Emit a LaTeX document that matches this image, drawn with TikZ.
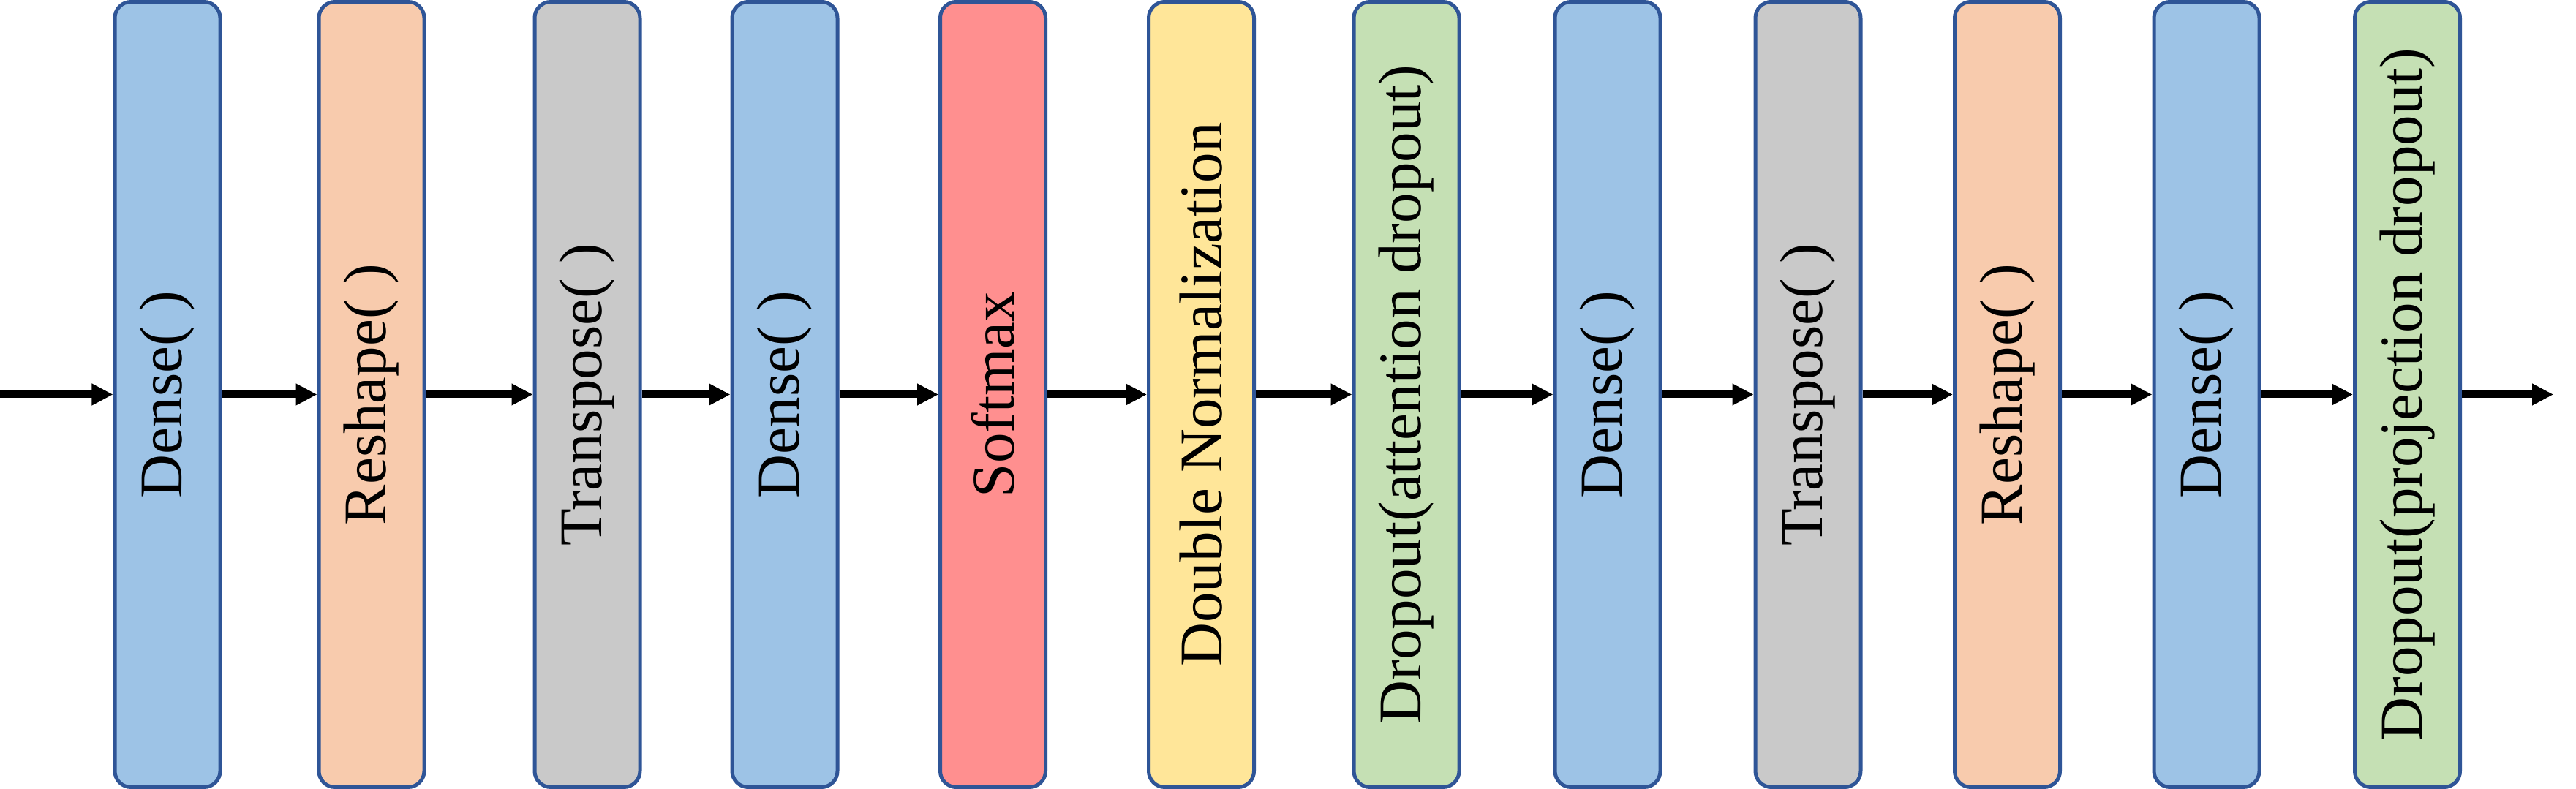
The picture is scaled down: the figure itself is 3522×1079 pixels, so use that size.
\documentclass[tikz,border=0pt]{standalone}
\usepackage{fontspec}
\setmainfont{Liberation Serif}
\usetikzlibrary{arrows.meta}
\definecolor{cdense}{HTML}{9DC3E6}
\definecolor{creshape}{HTML}{F8CBAD}
\definecolor{ctrans}{HTML}{C9C9C9}
\definecolor{csoft}{HTML}{FF8F8F}
\definecolor{cnorm}{HTML}{FFE699}
\definecolor{cdrop}{HTML}{C5E0B4}
\definecolor{cborder}{HTML}{2F5597}
\tikzset{
  layer/.style={draw=cborder, line width=1pt, rounded corners=4.4pt,
    rotate=90, minimum width=214.8pt, minimum height=28.8pt, inner sep=0pt,
    font=\fontsize{16.6pt}{20pt}\selectfont, text=black},
  flow/.style={line width=2pt, -{Triangle[length=5.8pt,width=5.6pt]}}
}
\begin{document}
\begin{tikzpicture}[x=0.2pt,y=0.2pt]
\useasboundingbox (0,0) rectangle (3522,1079);
\node[layer, fill=cdense]   (b1)  at (229,539.5)  {Dense( )};
\node[layer, fill=creshape] (b2)  at (508,539.5)  {Reshape( )};
\node[layer, fill=ctrans]   (b3)  at (803,539.5)  {Transpose( )};
\node[layer, fill=cdense]   (b4)  at (1073,539.5) {Dense( )};
\node[layer, fill=csoft]    (b5)  at (1357.5,539.5) {Softmax};
\node[layer, fill=cnorm]    (b6)  at (1642.5,539.5) {Double Normalization};
\node[layer, fill=cdrop]    (b7)  at (1923,539.5) {Dropout(attention dropout)};
\node[layer, fill=cdense]   (b8)  at (2198,539.5) {Dense( )};
\node[layer, fill=ctrans]   (b9)  at (2472,539.5) {Transpose( )};
\node[layer, fill=creshape] (b10) at (2744.5,539.5) {Reshape( )};
\node[layer, fill=cdense]   (b11) at (3017,539.5) {Dense( )};
\node[layer, fill=cdrop]    (b12) at (3291.5,539.5) {Dropout(projection dropout)};
\coordinate (in) at (0,539.5);
\coordinate (out) at (3491,539.5);
\draw[flow] (in) -- (b1.north);
\draw[flow] (b1.south) -- (b2.north);
\draw[flow] (b2.south) -- (b3.north);
\draw[flow] (b3.south) -- (b4.north);
\draw[flow] (b4.south) -- (b5.north);
\draw[flow] (b5.south) -- (b6.north);
\draw[flow] (b6.south) -- (b7.north);
\draw[flow] (b7.south) -- (b8.north);
\draw[flow] (b8.south) -- (b9.north);
\draw[flow] (b9.south) -- (b10.north);
\draw[flow] (b10.south) -- (b11.north);
\draw[flow] (b11.south) -- (b12.north);
\draw[flow] (b12.south) -- (out);
\end{tikzpicture}
\end{document}
